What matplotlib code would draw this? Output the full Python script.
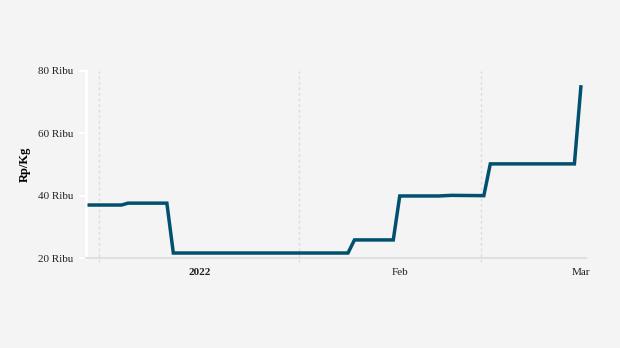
import datetime as dt
import matplotlib
matplotlib.use("Agg")
import matplotlib.pyplot as plt
import matplotlib.dates as mdates

# price points (Rp/Kg, in thousands) at the corners of each step
dates = ["2021-12-15", "2021-12-20", "2021-12-21", "2021-12-27", "2021-12-28",
         "2022-01-24", "2022-01-25", "2022-01-31", "2022-02-01", "2022-02-07",
         "2022-02-09", "2022-02-14", "2022-02-15", "2022-02-28", "2022-03-01"]
prices = [37.0, 37.0, 37.6, 37.6, 21.6,
          21.6, 25.8, 25.8, 39.9, 39.9,
          40.1, 40.0, 50.2, 50.2, 74.9]
tick_dates = ["2022-01-01", "2022-02-01", "2022-03-01"]
tick_labels = ["2022", "Feb", "Mar"]
grid_dates = ["2021-12-16 12", "2022-01-16 12", "2022-02-13 12"]
y_ticks = [20, 40, 60, 80]

bg = "#f4f4f4"
line_color = "#00506e"
serif = "Liberation Serif"

to_d = lambda s: dt.datetime.strptime(s, "%Y-%m-%d")
x = [to_d(d) for d in dates]

fig = plt.figure(figsize=(6.2, 3.48), dpi=100, facecolor=bg)
ax = fig.add_axes([86 / 620, 1 - 258 / 348, 500 / 620, 187 / 348], facecolor=bg)

for g in grid_dates:
    ax.axvline(dt.datetime.strptime(g, "%Y-%m-%d %H"), ymin=-0.02, ymax=1,
               color="#dcdcdc", lw=1, ls=(0, (2, 2)), clip_on=False, zorder=1)

ax.plot(x, prices, color=line_color, lw=2.5, solid_joinstyle="miter", zorder=3)

ax.set_ylim(20, 80)
ax.set_xlim(to_d("2021-12-14") + dt.timedelta(hours=12), to_d("2022-03-01") + dt.timedelta(hours=19))

ax.set_yticks(y_ticks)
ax.set_yticklabels([f"{v} Ribu" for v in y_ticks], fontfamily=serif, fontsize=8, color="#222222")
ax.set_xticks([mdates.date2num(to_d(d)) for d in tick_dates])
ax.set_xticklabels(tick_labels, fontfamily=serif, fontsize=8, color="#222222")
ax.get_xticklabels()[0].set_fontweight("bold")

ax.tick_params(axis="y", length=5, width=1.5, color="white", pad=4)
ax.tick_params(axis="x", length=0, pad=7)

for s in ["top", "right"]:
    ax.spines[s].set_visible(False)
ax.spines["left"].set_color("white")
ax.spines["left"].set_linewidth(2)
ax.spines["bottom"].set_color("#e0e0e0")
ax.spines["bottom"].set_linewidth(1.5)

ax.set_ylabel("Rp/Kg", fontfamily=serif, fontsize=9, fontweight="bold")
ax.yaxis.set_label_coords(-0.11, 0.5)

fig.savefig("out.png", dpi=100, facecolor=bg)
